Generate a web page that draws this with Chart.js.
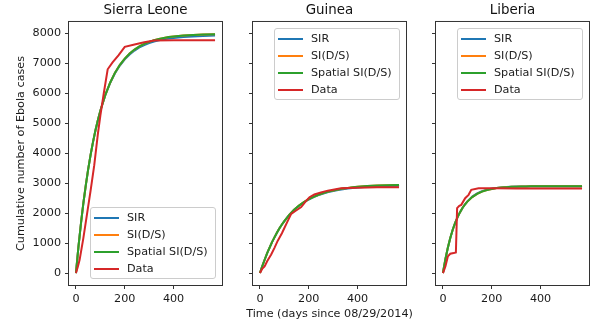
<!DOCTYPE html>
<html lang="en">

<head>
    <meta charset="UTF-8" />
    <title>Cumulative Ebola cases</title>
    <script src="https://cdn.jsdelivr.net/npm/chart.js"></script>
    <style>
        html, body { margin: 0; padding: 0; background: #fff; overflow: hidden; }
        #figura { position: relative; width: 593px; height: 328px; overflow: hidden; font-family: "DejaVu Sans", sans-serif; }
        #figura canvas { position: absolute; top: 0; }
        .legenda { position: absolute; box-sizing: border-box; width: 126px; height: 72px; background: rgba(255, 255, 255, 0.8);
                   border: 1px solid #cccccc; border-radius: 3px; padding-top: 1px; font-size: 11.2px; color: #222; }
        .legenda div { height: 17px; line-height: 17px; white-space: nowrap; }
        .legenda .linha { display: inline-block; width: 25px; height: 2px; margin: 0 8px 0 3px; vertical-align: middle; }
    </style>
</head>

<body>
    <div id="figura">
        <canvas id="grafico1" width="291" height="328" style="left:0px;width:291px;height:328px"></canvas>
        <canvas id="grafico2" width="193" height="328" style="left:233px;width:193px;height:328px"></canvas>
        <canvas id="grafico3" width="173" height="328" style="left:426px;width:173px;height:328px"></canvas>
    </div>
    <script>
        // dados
        const series = ['SIR', 'SI(D/S)', 'Spatial SI(D/S)', 'Data'];
        const cores = ['#1f77b4', '#ff7f0e', '#2ca02c', '#d62728'];
        const paises = ['Sierra Leone', 'Guinea', 'Liberia'];

        const diasModelo = [0, 10, 20, 30, 40, 50, 60, 70, 80, 90, 100, 120, 140, 160, 180, 200, 220, 240, 260, 280, 300, 320, 340, 360, 380, 400, 440, 480, 520, 570];

        const slSIR = [0, 857, 1620, 2305, 2913, 3459, 3945, 4378, 4764, 5110, 5418, 5930, 6340, 6670, 6925, 7130, 7295, 7425, 7530, 7610, 7675, 7725, 7765, 7800, 7825, 7848, 7878, 7898, 7910, 7925];
        const slSIDS = [0, 857, 1620, 2305, 2913, 3459, 3945, 4378, 4764, 5110, 5418, 5937, 6352, 6687, 6950, 7158, 7326, 7458, 7565, 7649, 7716, 7770, 7812, 7847, 7874, 7895, 7926, 7946, 7958, 7968];
        const slEspacial = [0, 857, 1620, 2305, 2913, 3459, 3945, 4378, 4764, 5110, 5418, 5937, 6352, 6687, 6950, 7158, 7326, 7458, 7565, 7649, 7716, 7770, 7812, 7847, 7874, 7895, 7926, 7946, 7958, 7968];
        const slDiasDados = [0, 8, 15, 30, 45, 60, 75, 90, 100, 115, 130, 150, 175, 200, 240, 280, 320, 400, 480, 570];
        const slDados = [0, 220, 440, 1150, 1950, 2750, 3600, 4650, 5250, 6050, 6800, 7030, 7270, 7550, 7630, 7700, 7760, 7770, 7770, 7770];

        const gnSIR = [0, 240, 460, 670, 860, 1040, 1200, 1355, 1495, 1620, 1735, 1940, 2110, 2245, 2360, 2455, 2535, 2600, 2655, 2702, 2740, 2772, 2798, 2820, 2838, 2853, 2876, 2892, 2904, 2913];
        const gnSIDS = [0, 240, 460, 670, 860, 1040, 1200, 1355, 1495, 1620, 1735, 1940, 2112, 2250, 2367, 2464, 2545, 2613, 2669, 2717, 2757, 2790, 2818, 2841, 2861, 2877, 2902, 2919, 2932, 2942];
        const gnEspacial = [0, 240, 460, 670, 860, 1040, 1200, 1355, 1495, 1620, 1735, 1940, 2112, 2250, 2367, 2464, 2545, 2613, 2669, 2717, 2757, 2790, 2818, 2841, 2861, 2877, 2902, 2919, 2932, 2942];
        const gnDiasDados = [0, 10, 19, 30, 46, 60, 73, 90, 101, 115, 128, 148, 169, 190, 203, 223, 250, 278, 332, 400, 480, 570];
        const gnDados = [0, 150, 220, 400, 620, 850, 1080, 1330, 1520, 1760, 1976, 2087, 2200, 2420, 2530, 2620, 2690, 2750, 2830, 2850, 2860, 2865];

        const lbSIR = [0, 459, 846, 1171, 1445, 1675, 1869, 2033, 2170, 2290, 2392, 2550, 2660, 2735, 2785, 2818, 2842, 2858, 2870, 2879, 2885, 2889, 2892, 2894, 2896, 2897, 2898, 2899, 2900, 2900];
        const lbSIDS = [0, 459, 846, 1171, 1445, 1675, 1869, 2033, 2170, 2286, 2383, 2534, 2640, 2716, 2770, 2808, 2835, 2854, 2867, 2877, 2883, 2888, 2892, 2894, 2896, 2897, 2898, 2899, 2900, 2900];
        const lbEspacial = [0, 459, 846, 1171, 1445, 1675, 1869, 2033, 2170, 2286, 2383, 2534, 2640, 2716, 2770, 2808, 2835, 2854, 2867, 2877, 2883, 2888, 2892, 2894, 2896, 2897, 2898, 2899, 2900, 2900];
        const lbDiasDados = [0, 10, 20, 30, 44, 53, 58, 67, 75, 91, 105, 116, 146, 214, 300, 400, 570];
        const lbDados = [0, 222, 555, 644, 666, 688, 2165, 2242, 2275, 2497, 2610, 2775, 2830, 2830, 2820, 2820, 2820];

        const ticksX = [0, 200, 400];
        const ticksY = [0, 1000, 2000, 3000, 4000, 5000, 6000, 7000, 8000];
        const limitesX = [-28.5, 598.5];
        const limitesY = [-399, 8379];

        const fonte = { family: '"DejaVu Sans", sans-serif', size: 11.2 };
        const corTexto = '#1a1a1a';

        // moldura do eixo (4 lados)
        const moldura = {
            id: 'moldura',
            afterDatasetsDraw(chart) {
                const { ctx, chartArea: a } = chart;
                ctx.save();
                ctx.strokeStyle = '#333';
                ctx.lineWidth = 1;
                ctx.strokeRect(a.left - 0.5, a.top - 0.5, a.right - a.left + 1, a.bottom - a.top + 1);
                ctx.restore();
            }
        };

        function pontos(dias, valores) {
            return dias.map(function (d, i) { return { x: d, y: valores[i] }; });
        }

        function criarGrafico(id, titulo, curvas, cfg) {
            const datasets = curvas.map(function (c, i) {
                return {
                    label: series[i],
                    data: pontos(c[0], c[1]),
                    borderColor: cores[i],
                    backgroundColor: cores[i],
                    borderWidth: 2,
                    pointRadius: 0,
                    tension: 0,
                    order: 3 - i
                };
            });

            // rotulo do eixo x vai como subtitulo embaixo (para nao ser comprimido)
            const alturaSub = cfg.rotuloX ? 11.2 * 1.2 + 7 : 0;

            return new Chart(document.getElementById(id), {
                type: 'line',
                data: { datasets: datasets },
                options: {
                    responsive: false,
                    animation: false,
                    devicePixelRatio: 1,
                    layout: { padding: 0 },
                    plugins: {
                        legend: { display: false },
                        tooltip: { enabled: false },
                        title: {
                            display: true,
                            text: titulo,
                            color: '#111',
                            font: { family: '"DejaVu Sans", sans-serif', size: 13.4, weight: 'normal' },
                            padding: { top: 2.5, bottom: 3.4 }
                        },
                        subtitle: {
                            display: !!cfg.rotuloX,
                            position: 'bottom',
                            text: cfg.rotuloX || '',
                            color: corTexto,
                            font: fonte,
                            padding: { top: 0, bottom: 7 }
                        }
                    },
                    scales: {
                        x: {
                            type: 'linear',
                            min: limitesX[0],
                            max: limitesX[1],
                            afterBuildTicks: function (s) { s.ticks = ticksX.map(function (v) { return { value: v }; }); },
                            afterFit: function (s) { s.height = 43 - alturaSub; },
                            grid: { drawOnChartArea: false, drawTicks: true, tickLength: 4, tickColor: '#333' },
                            border: { display: false },
                            ticks: { font: fonte, color: corTexto, padding: 3, maxRotation: 0 }
                        },
                        y: {
                            type: 'linear',
                            min: limitesY[0],
                            max: limitesY[1],
                            afterBuildTicks: function (s) { s.ticks = ticksY.map(function (v) { return { value: v }; }); },
                            afterFit: function (s) { s.width = cfg.larguraY; },
                            grid: { drawOnChartArea: false, drawTicks: true, tickLength: 4, tickColor: '#333' },
                            border: { display: false },
                            ticks: {
                                display: cfg.rotulosY, font: fonte, color: corTexto, padding: 4,
                                callback: function (v) { return String(v); }
                            },
                            title: {
                                display: !!cfg.rotuloY,
                                text: cfg.rotuloY || '',
                                font: fonte,
                                color: corTexto,
                                padding: { top: 14, bottom: 0 }
                            }
                        },
                        // eixo vazio a direita so para centralizar o titulo sobre a area do grafico
                        yDireita: {
                            position: 'right',
                            display: true,
                            afterFit: function (s) { s.width = cfg.larguraY; },
                            grid: { display: false },
                            border: { display: false },
                            ticks: { display: false }
                        }
                    }
                },
                plugins: [moldura]
            });
        }

        function legenda(grafico, esquerdaCanvas, emBaixo) {
            const area = grafico.chartArea;
            const el = document.createElement('div');
            el.className = 'legenda';
            el.innerHTML = series.map(function (s, i) {
                return '<div><span class="linha" style="background:' + cores[i] + '"></span>' + s + '</div>';
            }).join('');
            el.style.left = (esquerdaCanvas + area.right - 6 - 126) + 'px';
            el.style.top = (emBaixo ? area.bottom - 6 - 72 : area.top + 6) + 'px';
            document.getElementById('figura').appendChild(el);
        }

        const g1 = criarGrafico('grafico1', paises[0],
            [[diasModelo, slSIR], [diasModelo, slSIDS], [diasModelo, slEspacial], [slDiasDados, slDados]],
            { larguraY: 69, rotulosY: true, rotuloY: 'Cumulative number of Ebola cases' });

        const g2 = criarGrafico('grafico2', paises[1],
            [[diasModelo, gnSIR], [diasModelo, gnSIDS], [diasModelo, gnEspacial], [gnDiasDados, gnDados]],
            { larguraY: 20, rotulosY: false, rotuloX: 'Time (days since 08/29/2014)' });

        const g3 = criarGrafico('grafico3', paises[2],
            [[diasModelo, lbSIR], [diasModelo, lbSIDS], [diasModelo, lbEspacial], [lbDiasDados, lbDados]],
            { larguraY: 10, rotulosY: false });

        legenda(g1, 0, true);
        legenda(g2, 233, false);
        legenda(g3, 426, false);
    </script>
</body>

</html>
